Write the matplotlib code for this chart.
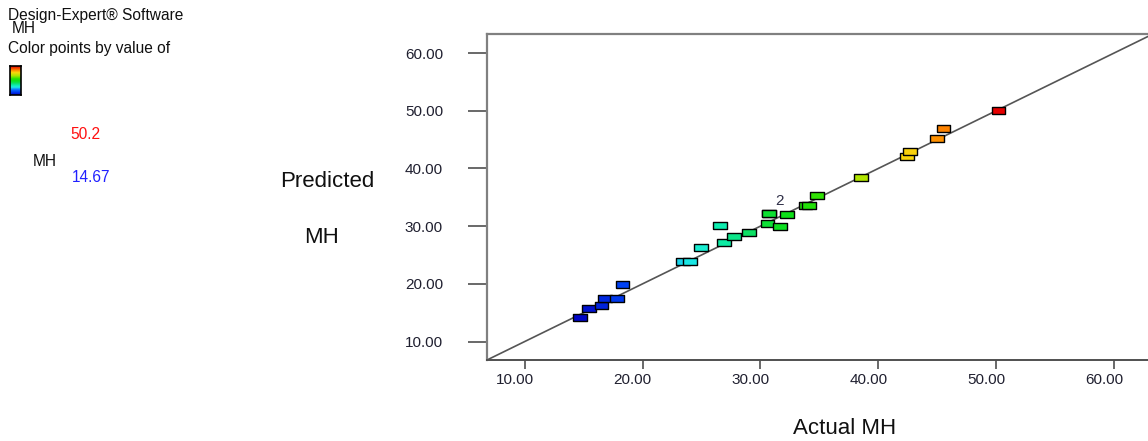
import matplotlib
matplotlib.use("Agg")
import matplotlib.pyplot as plt
import matplotlib.transforms as mtransforms
from matplotlib.colors import LinearSegmentedColormap, Normalize
import numpy as np

# ---- data ----
actual = [14.67, 15.46, 16.51, 16.79, 17.84, 18.29, 23.44, 24.00, 24.97, 26.55,
          26.89, 27.77, 29.02, 30.60, 30.74, 30.74, 31.65, 32.27, 33.83, 34.14,
          34.82, 38.55, 42.43, 42.66, 44.95, 45.54, 50.20]
predicted = [14.23, 15.79, 16.19, 17.40, 17.40, 19.83, 23.93, 23.93, 26.24, 30.05,
             27.16, 28.15, 28.84, 30.46, 32.14, 32.14, 30.00, 32.00, 33.57, 33.57,
             35.25, 38.50, 42.13, 42.88, 45.25, 46.98, 50.03]
color_min, color_max = 14.67, 50.2
tick_values = [10, 20, 30, 40, 50, 60]
tick_labels = ["10.00", "20.00", "30.00", "40.00", "50.00", "60.00"]
axis_range = (6.8, 63.3)

plt.rcParams['font.family'] = ['Liberation Sans', 'DejaVu Sans']

W, H = 1148, 441
fig = plt.figure(figsize=(W / 100, H / 100), dpi=100)

def px(x, y):
    return x / W, 1 - y / H

cmap = LinearSegmentedColormap.from_list("de", [
    (0.00, (0.00, 0.02, 0.78)),
    (0.10, (0.00, 0.25, 0.95)),
    (0.18, (0.05, 0.45, 1.00)),
    (0.26, (0.10, 0.90, 0.90)),
    (0.29, (0.10, 0.93, 0.82)),
    (0.335, (0.05, 0.93, 0.68)),
    (0.39, (0.05, 0.88, 0.45)),
    (0.45, (0.05, 0.88, 0.20)),
    (0.50, (0.05, 0.88, 0.08)),
    (0.56, (0.15, 0.88, 0.02)),
    (0.67, (0.68, 0.90, 0.00)),
    (0.78, (0.98, 0.85, 0.05)),
    (0.86, (1.00, 0.55, 0.00)),
    (1.00, (0.90, 0.00, 0.00)),
])
norm = Normalize(color_min, color_max)

# axes: left 487px, right ~1153px (clipped), top 34px, bottom 360px
x0, x1, y0, y1 = 487, 1153, 34, 360
ax = fig.add_axes([x0 / W, 1 - y1 / H, (x1 - x0) / W, (y1 - y0) / H])
ax.set_xlim(*axis_range)
ax.set_ylim(*axis_range)

ax.plot(axis_range, axis_range, color="#555555", lw=1.2, zorder=1)

rect = [(-1, -0.52), (1, -0.52), (1, 0.52), (-1, 0.52), (-1, -0.52)]
ax.scatter(actual, predicted, marker=rect, s=9.8 ** 2, c=actual, cmap=cmap, norm=norm,
           edgecolors="black", linewidths=1.0, zorder=3)
ax.annotate("2", xy=(actual[15], predicted[15]), xytext=(4, 6), textcoords="offset points",
            fontsize=11, color="#303048", zorder=4)

ax.spines["right"].set_visible(False)
ax.spines["left"].set_color("#808080")
ax.spines["left"].set_linewidth(1.6)
ax.spines["top"].set_color("#808080")
ax.spines["top"].set_linewidth(1.6)
ax.spines["bottom"].set_color("#505050")
ax.spines["bottom"].set_linewidth(1.4)

ax.set_xticks(tick_values)
ax.set_xticklabels(tick_labels)
ax.set_yticks(tick_values)
ax.set_yticklabels(tick_labels)
ax.tick_params(axis="x", direction="out", length=6.5, width=1.1, color="#404040",
               labelsize=11, labelcolor="#202030", pad=3)
ax.tick_params(axis="y", direction="out", length=13.7, width=1.1, color="#404040",
               labelsize=11, labelcolor="#202030", pad=18)
shift = mtransforms.ScaledTranslation(-10 / 100, 0, fig.dpi_scale_trans)
for lab in ax.get_xticklabels():
    lab.set_transform(lab.get_transform() + shift)

# axis titles
fig.text(*px(327, 187), "Predicted", fontsize=16, ha="center", va="baseline", color="#101010")
fig.text(*px(321, 243), "MH", fontsize=16, ha="center", va="baseline", color="#101010")
fig.text(*px(845, 434), "Actual MH", fontsize=16, ha="center", va="baseline", color="#101010")

# left info panel
fs = 11.2
fig.text(*px(8, 20), "Design-Expert® Software", fontsize=fs, ha="left", va="baseline", color="#101010")
fig.text(*px(12, 33), "MH", fontsize=fs, ha="left", va="baseline", color="#101010")
fig.text(*px(8, 53), "Color points by value of", fontsize=fs, ha="left", va="baseline", color="#101010")
fig.text(*px(70, 139), f"{color_max:g}", fontsize=fs, ha="left", va="baseline", color="#ff1010")
fig.text(*px(33, 166), "MH", fontsize=fs, ha="left", va="baseline", color="#101010")
fig.text(*px(72, 182), f"{color_min:g}", fontsize=fs, ha="left", va="baseline", color="#2020ff")

cax = fig.add_axes([10 / W, 1 - 95 / H, 11 / W, 29 / H])
grad = np.linspace(1, 0, 64).reshape(-1, 1)
cax.imshow(grad, aspect="auto", cmap=cmap, extent=(0, 1, 0, 1))
cax.set_xticks([])
cax.set_yticks([])
for s in cax.spines.values():
    s.set_linewidth(1.2)
    s.set_color("black")

fig.savefig("out.png", dpi=100)
